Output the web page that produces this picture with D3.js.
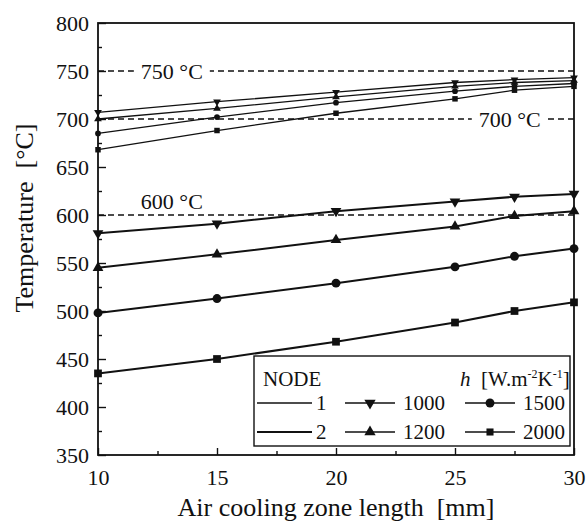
<!DOCTYPE html>
<html>
  <head>
    <meta charset="UTF-8">
    <script src="https://d3js.org/d3.v7.min.js"></script>
    <style>
        body { margin: 0; background: #fff; }
        svg text, svg tspan { font-family: "Liberation Serif", "Times New Roman", serif !important; white-space: pre; }
        .tick text { font-size: 22px; fill: #111; }
        .tick line { stroke: #111; stroke-width: 1.4; }
        .domain { display: none; }
        .axisTitle { font-size: 26px; fill: #111; }
        .refLabel { font-size: 22px; fill: #111; }
        .legText { font-size: 21px; fill: #111; }
    </style>
  </head>
  <body>
    <script>
        // x positions along the air cooling zone [mm]
        const zoneLength = [10, 15, 20, 25, 27.5, 30]
        const hValues = [1000, 1200, 1500, 2000]

        // NODE 1 temperatures [°C]
        const node1_h1000 = [707, 718, 728, 738, 741, 743]
        const node1_h1200 = [700, 711, 723, 734, 738, 740]
        const node1_h1500 = [685, 702, 717, 729, 734, 737]
        const node1_h2000 = [668, 688, 706, 721, 730, 734]

        // NODE 2 temperatures [°C]
        const node2_h1000 = [581, 591, 604, 614, 619, 622]
        const node2_h1200 = [545, 559, 574, 588, 599, 604]
        const node2_h1500 = [498, 513, 529, 546, 557, 565]
        const node2_h2000 = [435, 450, 468, 488, 500, 509]

        // dashed reference temperatures
        const refTemps = [750, 700, 600]

        const yTicks = [350, 400, 450, 500, 550, 600, 650, 700, 750, 800]
        const xTicks = [10, 15, 20, 25, 30]

        const series = [
            {node: 1, h: 1000, values: node1_h1000},
            {node: 1, h: 1200, values: node1_h1200},
            {node: 1, h: 1500, values: node1_h1500},
            {node: 1, h: 2000, values: node1_h2000},
            {node: 2, h: 1000, values: node2_h1000},
            {node: 2, h: 1200, values: node2_h1200},
            {node: 2, h: 1500, values: node2_h1500},
            {node: 2, h: 2000, values: node2_h2000}
        ]

        let svgWidth = 587, svgHeight = 523
        let margin = {top: 23, right: 13, bottom: 68, left: 98}
        let width = svgWidth - margin.left - margin.right
        let height = svgHeight - margin.top - margin.bottom

        let x = d3.scaleLinear().domain([10, 30]).range([0, width])
        let y = d3.scaleLinear().domain([350, 800]).range([height, 0])

        let symbolFor = h => {
            if (h === 1500) return d3.symbolCircle
            if (h === 2000) return d3.symbolSquare
            return d3.symbolTriangle
        }
        let rotFor = h => h === 1000 ? 180 : 0

        let svg = d3.select('body').append('svg')
            .attr('width', svgWidth)
            .attr('height', svgHeight)

        let g = svg.append('g')
            .attr('transform', `translate(${margin.left}, ${margin.top})`)

        // minor ticks
        g.append('g')
            .call(d3.axisLeft(y).tickValues(d3.range(375, 800, 50)).tickSize(-4).tickFormat(''))
        g.append('g')
            .attr('transform', `translate(0, ${height})`)
            .call(d3.axisBottom(x).tickValues(d3.range(12.5, 30, 5)).tickSize(-4).tickFormat(''))

        // major ticks
        g.append('g')
            .call(d3.axisLeft(y).tickValues(yTicks).tickSize(-8).tickPadding(9))
        g.append('g')
            .attr('transform', `translate(0, ${height})`)
            .call(d3.axisBottom(x).tickValues(xTicks).tickSize(-7).tickPadding(14))

        // reference lines
        g.selectAll('.refLine')
            .data(refTemps)
            .enter()
            .append('line')
            .attr('class', 'refLine')
            .attr('x1', 0)
            .attr('x2', width)
            .attr('y1', d => y(d))
            .attr('y2', d => y(d))
            .attr('stroke', '#111')
            .attr('stroke-width', 1.3)
            .attr('stroke-dasharray', '6,4')

        let refLabelPos = {750: {x: 11.8, dy: 8, bg: true}, 700: {x: 26.0, dy: 8, bg: true}, 600: {x: 11.8, dy: -6, bg: false}}
        refTemps.forEach(t => {
            let p = refLabelPos[t]
            let lab = g.append('g')
            let txt = lab.append('text')
                .attr('class', 'refLabel')
                .attr('x', x(p.x))
                .attr('y', y(t) + p.dy)
                .text(`${t} °C`)
            if (p.bg) {
                let bb = txt.node().getBBox()
                lab.insert('rect', 'text')
                    .attr('x', bb.x - 7)
                    .attr('y', y(t) - 3)
                    .attr('width', bb.width + 14)
                    .attr('height', 6)
                    .attr('fill', '#fff')
            }
        })

        // data lines
        let line = d3.line()
            .x((d, i) => x(zoneLength[i]))
            .y(d => y(d))

        g.selectAll('.dataLine')
            .data(series)
            .enter()
            .append('path')
            .attr('class', 'dataLine')
            .attr('d', d => line(d.values))
            .attr('fill', 'none')
            .attr('stroke', '#111')
            .attr('stroke-width', d => d.node === 1 ? 1.3 : 2)

        // markers
        series.forEach(s => {
            g.selectAll(null)
                .data(s.values)
                .enter()
                .append('path')
                .attr('d', d3.symbol().type(symbolFor(s.h)).size(s.node === 1 ? (s.h === 2000 ? 30 : 26) : (s.h === 2000 ? 60 : s.h === 1500 ? 62 : 50)))
                .attr('transform', (d, i) => `translate(${x(zoneLength[i])}, ${y(d)}) rotate(${rotFor(s.h)})`)
                .attr('fill', '#111')
        })

        // frame
        g.append('rect')
            .attr('x', 0)
            .attr('y', 0)
            .attr('width', width)
            .attr('height', height)
            .attr('fill', 'none')
            .attr('stroke', '#111')
            .attr('stroke-width', 1.8)

        // legend
        let leg = svg.append('g').attr('transform', 'translate(254, 356)')
        leg.append('rect')
            .attr('width', 316)
            .attr('height', 90)
            .attr('fill', '#fff')
            .attr('stroke', '#111')
            .attr('stroke-width', 1.4)

        leg.append('text')
            .attr('class', 'legText')
            .attr('x', 9)
            .attr('y', 30)
            .text('NODE')

        let hLab = leg.append('text')
            .attr('class', 'legText')
            .attr('x', 206)
            .attr('y', 30)
        hLab.append('tspan').style('font-style', 'italic').text('h')
        hLab.append('tspan').text('  [W.m')
        hLab.append('tspan').attr('dy', -8).style('font-size', '12px').text('-2')
        hLab.append('tspan').attr('dy', 8).text('K')
        hLab.append('tspan').attr('dy', -8).style('font-size', '12px').text('-1')
        hLab.append('tspan').attr('dy', 8).text(']')

        let rowY = [47, 76]
        ;[1, 2].forEach((n, r) => {
            leg.append('line')
                .attr('x1', 3).attr('x2', 58)
                .attr('y1', rowY[r]).attr('y2', rowY[r])
                .attr('stroke', '#111')
                .attr('stroke-width', n === 1 ? 1.3 : 2)
            leg.append('text')
                .attr('class', 'legText')
                .attr('x', 62)
                .attr('y', rowY[r] + 7)
                .text(n)
        })

        let legCols = [91, 211]
        hValues.forEach((h, i) => {
            let cx = legCols[Math.floor(i / 2)]
            let cy = rowY[i % 2]
            leg.append('line')
                .attr('x1', cx).attr('x2', cx + 50)
                .attr('y1', cy).attr('y2', cy)
                .attr('stroke', '#111')
                .attr('stroke-width', 1.7)
            leg.append('path')
                .attr('d', d3.symbol().type(symbolFor(h)).size(h === 2000 ? 50 : h === 1500 ? 62 : 55))
                .attr('transform', `translate(${cx + 25}, ${cy}) rotate(${rotFor(h)})`)
                .attr('fill', '#111')
            leg.append('text')
                .attr('class', 'legText')
                .attr('x', cx + 58)
                .attr('y', cy + 7)
                .text(h)
        })

        // axis titles
        svg.append('text')
            .attr('class', 'axisTitle')
            .attr('text-anchor', 'middle')
            .attr('x', margin.left + width / 2)
            .attr('y', 516)
            .text('Air cooling zone length  [mm]')

        svg.append('text')
            .attr('class', 'axisTitle')
            .attr('text-anchor', 'middle')
            .attr('transform', 'translate(33, 218) rotate(-90)')
            .text('Temperature  [°C]')
    </script>
  </body>
</html>
